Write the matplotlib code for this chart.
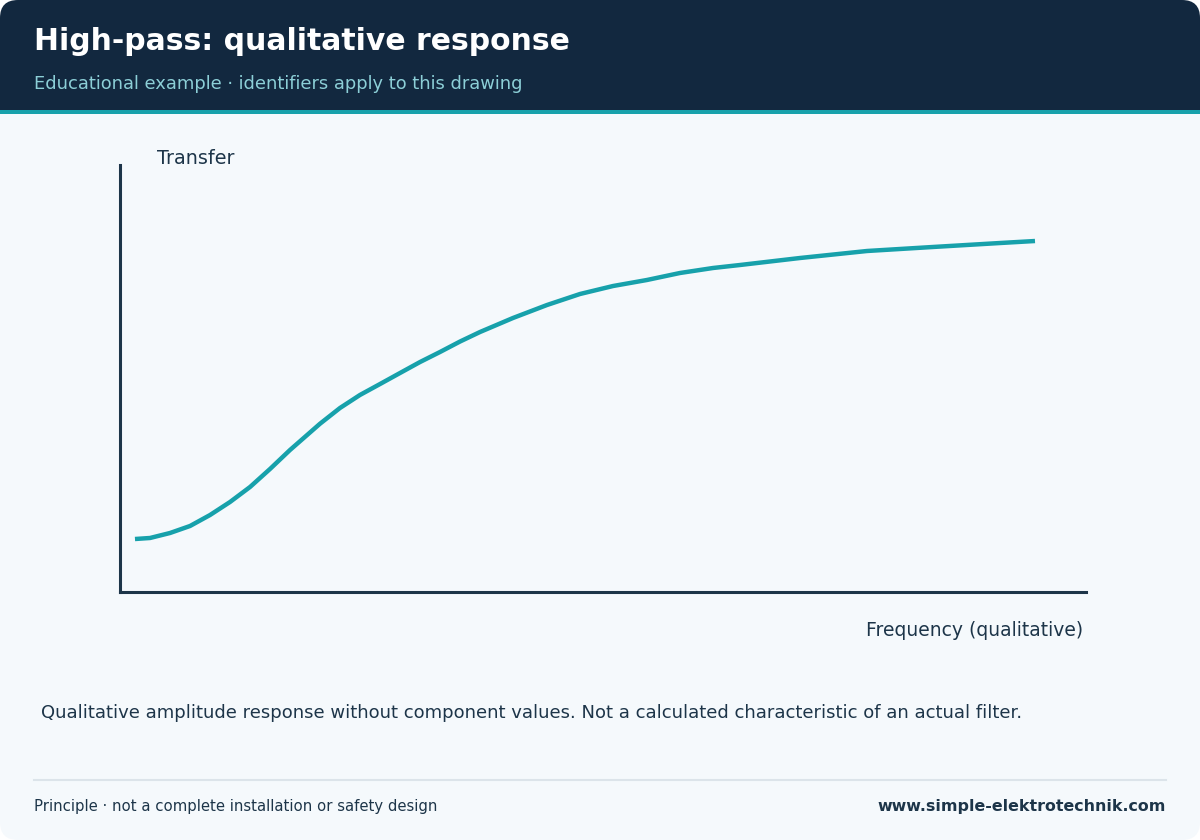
import matplotlib
matplotlib.use("Agg")
import matplotlib.pyplot as plt
from matplotlib.patches import FancyBboxPatch, Rectangle

# qualitative high-pass curve (0..100 both axes)
freq = [1.55, 3.11, 5.18, 7.25, 9.32, 11.39, 13.46, 15.53, 17.60, 20.70,
        22.77, 24.84, 26.92, 28.99, 31.06, 33.13, 35.20, 37.27, 40.68, 44.20,
        47.62, 51.04, 54.55, 57.97, 61.39, 64.18, 70.39, 77.33, 84.16, 91.10,
        94.72]
transfer = [12.41, 12.65, 13.82, 15.46, 18.03, 21.08, 24.59, 28.81, 33.26, 39.40,
            43.09, 46.14, 48.71, 51.29, 53.86, 56.21, 58.66, 60.89, 64.17, 67.21,
            69.79, 71.66, 73.07, 74.71, 75.88, 76.58, 78.22, 79.86, 80.80, 81.73,
            82.20]

title = "High-pass: qualitative response"
subtitle = "Educational example \u00b7 identifiers apply to this drawing"
ylabel = "Transfer"
xlabel = "Frequency (qualitative)"
caption = ("Qualitative amplitude response without component values. "
           "Not a calculated characteristic of an actual filter.")
footer_left = "Principle \u00b7 not a complete installation or safety design"
footer_right = "www.simple-elektrotechnik.com"

NAVY = "#12283f"
TEAL = "#17a1ab"
INK = "#1d3549"
BG = "#f5f9fc"

W, H = 1200, 840
fig = plt.figure(figsize=(W / 100, H / 100), dpi=100)
fig.patch.set_facecolor("white")

# card background in pixel coords
bg = fig.add_axes([0, 0, 1, 1])
bg.set_xlim(0, W)
bg.set_ylim(H, 0)
bg.axis("off")

card = FancyBboxPatch((0, 0), W, H, boxstyle="round,pad=0,rounding_size=18",
                      facecolor=BG, edgecolor="none")
bg.add_patch(card)
head = FancyBboxPatch((0, 0), W, 112, boxstyle="round,pad=0,rounding_size=18",
                      facecolor=NAVY, edgecolor="none")
bg.add_patch(head)
bg.add_patch(Rectangle((0, 60), W, 52, facecolor=NAVY, edgecolor="none"))
bg.add_patch(Rectangle((0, 110), W, 4, facecolor=TEAL, edgecolor="none"))

bg.text(34, 42, title, color="white", fontsize=21.5, fontweight="bold",
        va="center", ha="left")
bg.text(34, 84, subtitle, color="#8ccfd7", fontsize=12.9, va="center", ha="left")

bg.text(157, 158, ylabel, color=INK, fontsize=13.8, va="center", ha="left")
bg.text(1083, 631, xlabel, color=INK, fontsize=13.5, va="center", ha="right")
bg.text(41, 713, caption, color=INK, fontsize=13.0, va="center", ha="left")

bg.plot([34, 1166], [780, 780], color="#dce4ea", lw=1.5)
bg.text(34, 807, footer_left, color=INK, fontsize=10.7, va="center", ha="left")
bg.text(1166, 807, footer_right, color=INK, fontsize=11.4, fontweight="bold",
        va="center", ha="right")

# the chart itself
ax = fig.add_axes([120 / W, (H - 592) / H, 966 / W, 427 / H])
ax.set_facecolor("none")
ax.set_xlim(0, 100)
ax.set_ylim(0, 100)
for s in ("top", "right"):
    ax.spines[s].set_visible(False)
for s in ("left", "bottom"):
    ax.spines[s].set_color(INK)
    ax.spines[s].set_linewidth(2.2)
ax.set_xticks([])
ax.set_yticks([])
ax.plot(freq, transfer, color=TEAL, lw=3.2, solid_capstyle="butt",
        solid_joinstyle="round", clip_on=False)

fig.savefig("out.png", dpi=100, facecolor=fig.get_facecolor())
